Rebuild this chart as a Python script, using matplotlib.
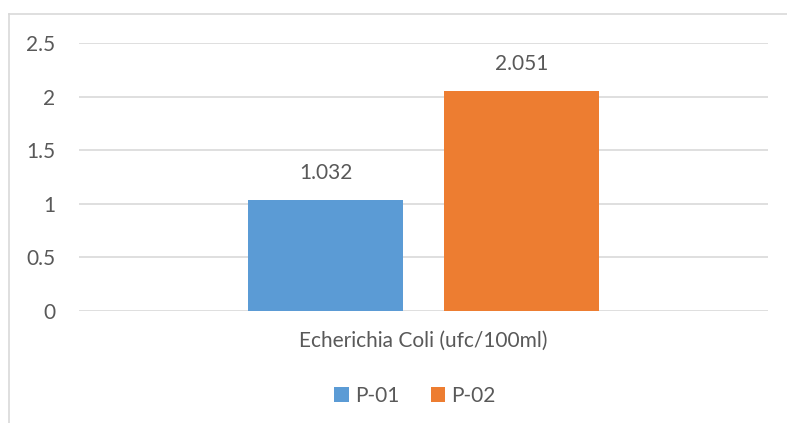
import matplotlib
matplotlib.use("Agg")
import matplotlib.pyplot as plt
from matplotlib.patches import Patch

categories = ["Echerichia Coli (ufc/100ml)"]
series_names = ["P-01", "P-02"]
values = [1.032, 2.051]
colors = ["#5B9BD5", "#ED7D31"]
yticks = [0, 0.5, 1, 1.5, 2, 2.5]
ytick_labels = ["0", "0.5", "1", "1.5", "2", "2.5"]

plt.rcParams['font.family'] = ['Lato', 'DejaVu Sans']
txt = "#595959"
fs = 15
W, H = 787, 423
fig = plt.figure(figsize=(W/100, H/100), dpi=100)

# outer chart border (left, top, right)
fig.add_artist(plt.Line2D([8.5/W, 8.5/W], [0, 1 - 14/H], color="#D9D9D9", lw=1.2))
fig.add_artist(plt.Line2D([8.5/W, 787/W], [1 - 14/H, 1 - 14/H], color="#D9D9D9", lw=1.2))

x0, x1 = 79, 768
y_top, y_bot = 43, 311
ax = fig.add_axes([x0/W, 1 - y_bot/H, (x1 - x0)/W, (y_bot - y_top)/H])
ax.set_xlim(-0.5, 0.5)
ax.set_ylim(0, 2.5)
ax.set_yticks(yticks)
ax.set_yticklabels(ytick_labels, color=txt, fontsize=fs)
ax.yaxis.grid(True, color="#D9D9D9", lw=1.2)
ax.set_axisbelow(True)
for s in ax.spines.values():
    s.set_visible(False)
ax.tick_params(axis='y', length=0, pad=17)
ax.set_xticks([0])
ax.set_xticklabels(categories, color=txt, fontsize=fs)
ax.tick_params(axis='x', length=0, pad=14)

bw = 0.225
offs = [-0.142, 0.142]
for i, (v, c) in enumerate(zip(values, colors)):
    ax.bar(offs[i], v, width=bw, color=c, zorder=2)
    ax.text(offs[i], v + 0.16, f"{v:.3f}", ha="center", va="bottom", color=txt, fontsize=fs)

handles = [Patch(facecolor=c, edgecolor='none') for c in colors]
fig.legend(handles, series_names, loc="center", bbox_to_anchor=(415/W, 1 - 396/H), ncol=2,
           frameon=False, fontsize=fs, labelcolor=txt, handlelength=0.7, handleheight=0.7,
           handletextpad=0.3, columnspacing=1.5)

fig.savefig("out.png", dpi=100)
